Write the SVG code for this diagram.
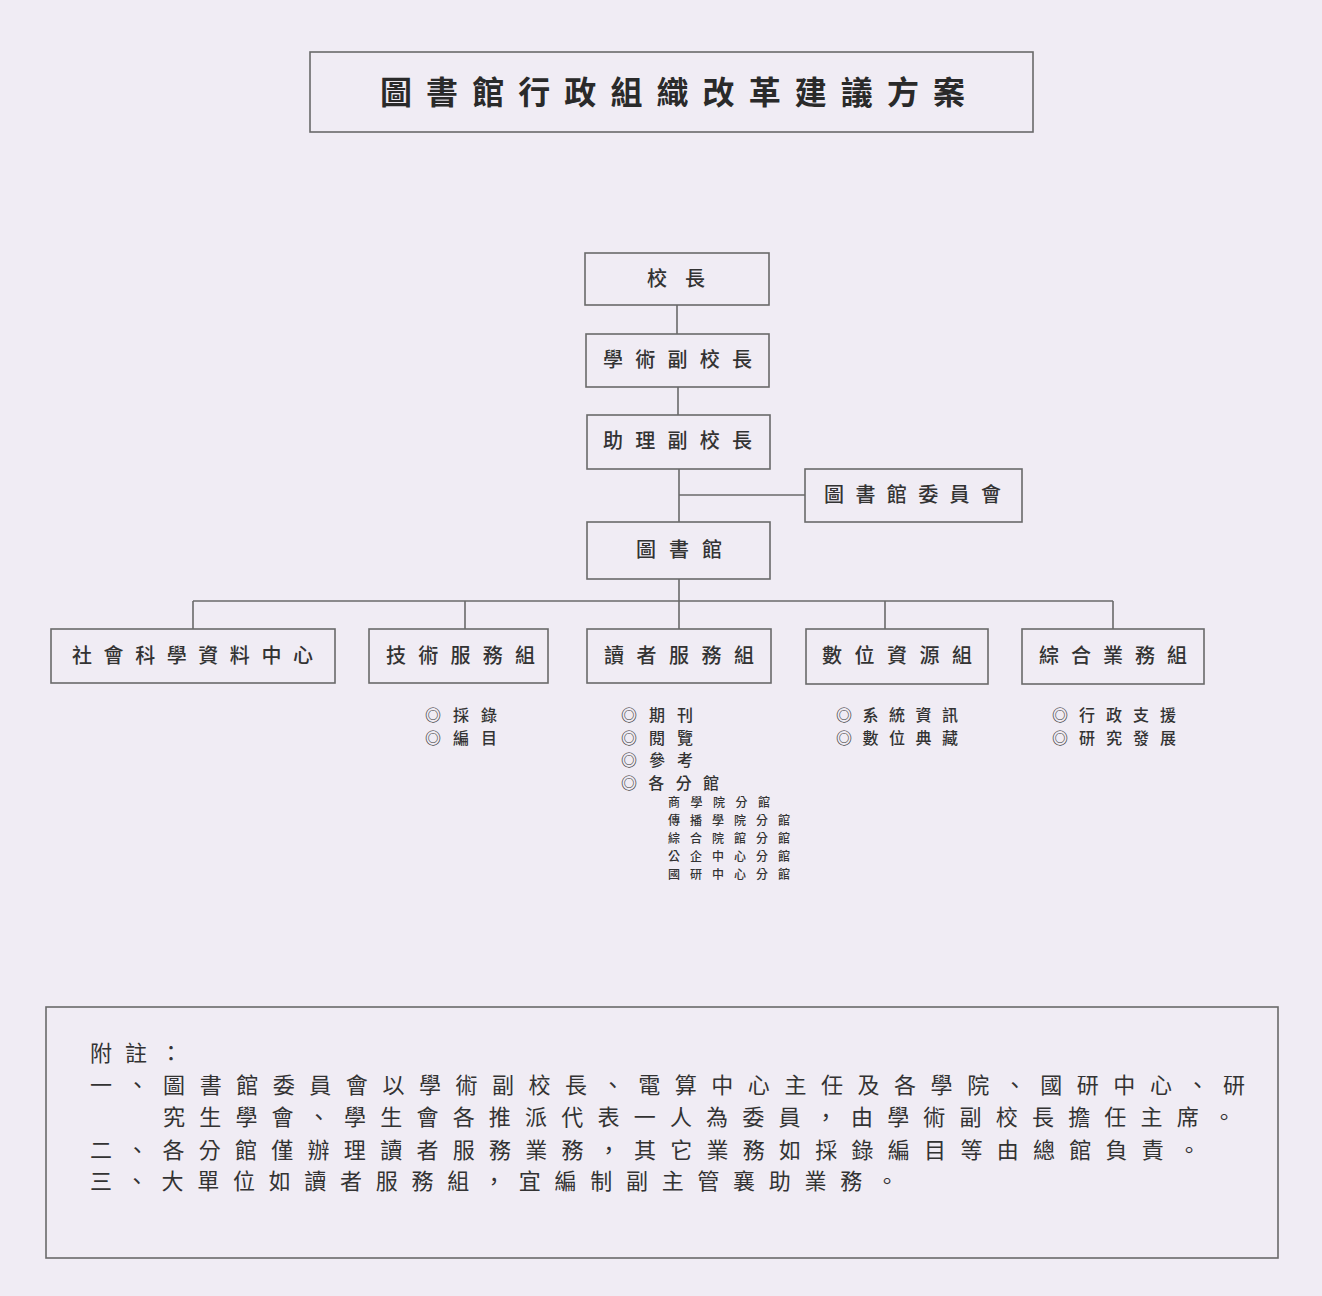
<svg xmlns="http://www.w3.org/2000/svg" width="1322" height="1296" viewBox="0 0 1322 1296">
<style>
  .bg { fill: #f0ecf4; }
  .box { fill: none; stroke: #6a6a6a; stroke-width: 1.6; }
  .ln { fill: none; stroke: #6a6a6a; stroke-width: 1.6; }
  text { font-family: "Noto Sans CJK TC", "Noto Sans CJK SC", sans-serif; fill: #333; }
  .title { font-size: 32px; font-weight: bold; fill: #2a2a2a; }
  .node { font-size: 20px; font-weight: 500; }
  .item { font-size: 16px; font-weight: 500; }
  .sub { font-size: 12px; font-weight: 500; }
  .note { font-size: 22px; }
</style>
<rect class="bg" x="0" y="0" width="1322" height="1296"/>

<g id="title">
  <rect class="box" x="310" y="52" width="723" height="80"/>
  <text class="title" x="380" y="104" textLength="585" lengthAdjust="spacing">圖書館行政組織改革建議方案</text>
</g>

<g id="connectors">
  <line class="ln" x1="677" y1="305" x2="677" y2="334"/>
  <line class="ln" x1="678" y1="387" x2="678" y2="415"/>
  <line class="ln" x1="679" y1="469" x2="679" y2="522"/>
  <line class="ln" x1="679" y1="495" x2="805" y2="495"/>
  <line class="ln" x1="679" y1="579" x2="679" y2="601"/>
  <line class="ln" x1="193" y1="601" x2="1113" y2="601"/>
  <line class="ln" x1="193" y1="601" x2="193" y2="629"/>
  <line class="ln" x1="465" y1="601" x2="465" y2="629"/>
  <line class="ln" x1="679" y1="601" x2="679" y2="629"/>
  <line class="ln" x1="885" y1="601" x2="885" y2="629"/>
  <line class="ln" x1="1113" y1="601" x2="1113" y2="629"/>
</g>

<g id="president">
  <rect class="box" x="585" y="253" width="184" height="52"/>
  <text class="node" x="647" y="286" textLength="58" lengthAdjust="spacing">校長</text>
</g>
<g id="academic-vp">
  <rect class="box" x="586" y="334" width="183" height="53"/>
  <text class="node" x="603" y="367" textLength="149" lengthAdjust="spacing">學術副校長</text>
</g>
<g id="assistant-vp">
  <rect class="box" x="587" y="415" width="183" height="54"/>
  <text class="node" x="603" y="448" textLength="149" lengthAdjust="spacing">助理副校長</text>
</g>
<g id="library-committee">
  <rect class="box" x="805" y="469" width="217" height="53"/>
  <text class="node" x="824" y="502" textLength="177" lengthAdjust="spacing">圖書館委員會</text>
</g>
<g id="library">
  <rect class="box" x="587" y="522" width="183" height="57"/>
  <text class="node" x="636" y="557" textLength="86" lengthAdjust="spacing">圖書館</text>
</g>

<g id="social-science-center">
  <rect class="box" x="51" y="629" width="284" height="54"/>
  <text class="node" x="72" y="663" textLength="241" lengthAdjust="spacing">社會科學資料中心</text>
</g>
<g id="technical-services">
  <rect class="box" x="369" y="629" width="179" height="54"/>
  <text class="node" x="386" y="663" textLength="149" lengthAdjust="spacing">技術服務組</text>
  <text class="item" x="425" y="721" textLength="72" lengthAdjust="spacing">◎採錄</text>
  <text class="item" x="425" y="744" textLength="72" lengthAdjust="spacing">◎編目</text>
</g>
<g id="reader-services">
  <rect class="box" x="587" y="629" width="184" height="54"/>
  <text class="node" x="604" y="663" textLength="150" lengthAdjust="spacing">讀者服務組</text>
  <text class="item" x="621" y="721" textLength="72" lengthAdjust="spacing">◎期刊</text>
  <text class="item" x="621" y="744" textLength="72" lengthAdjust="spacing">◎閱覽</text>
  <text class="item" x="621" y="766" textLength="72" lengthAdjust="spacing">◎參考</text>
  <text class="item" x="621" y="789" textLength="98" lengthAdjust="spacing">◎各分館</text>
  <text class="sub" x="668" y="807" textLength="102" lengthAdjust="spacing">商學院分館</text>
  <text class="sub" x="668" y="825" textLength="122" lengthAdjust="spacing">傳播學院分館</text>
  <text class="sub" x="668" y="843" textLength="122" lengthAdjust="spacing">綜合院館分館</text>
  <text class="sub" x="668" y="861" textLength="122" lengthAdjust="spacing">公企中心分館</text>
  <text class="sub" x="668" y="879" textLength="122" lengthAdjust="spacing">國研中心分館</text>
</g>
<g id="digital-resources">
  <rect class="box" x="806" y="629" width="182" height="55"/>
  <text class="node" x="822" y="663" textLength="150" lengthAdjust="spacing">數位資源組</text>
  <text class="item" x="836" y="721" textLength="122" lengthAdjust="spacing">◎系統資訊</text>
  <text class="item" x="836" y="744" textLength="122" lengthAdjust="spacing">◎數位典藏</text>
</g>
<g id="general-affairs">
  <rect class="box" x="1022" y="629" width="182" height="55"/>
  <text class="node" x="1039" y="663" textLength="148" lengthAdjust="spacing">綜合業務組</text>
  <text class="item" x="1052" y="721" textLength="124" lengthAdjust="spacing">◎行政支援</text>
  <text class="item" x="1052" y="744" textLength="124" lengthAdjust="spacing">◎研究發展</text>
</g>

<g id="notes">
  <rect class="box" x="46" y="1007" width="1232" height="251"/>
  <text class="note" x="90" y="1061" font-size="20" textLength="92" lengthAdjust="spacing">附註：</text>
  <text class="note" x="90" y="1093" textLength="1155" lengthAdjust="spacing">一、圖書館委員會以學術副校長、電算中心主任及各學院、國研中心、研</text>
  <text class="note" x="163" y="1125" textLength="1072" lengthAdjust="spacing">究生學會、學生會各推派代表一人為委員，由學術副校長擔任主席。</text>
  <text class="note" x="90" y="1158" textLength="1110" lengthAdjust="spacing">二、各分館僅辦理讀者服務業務，其它業務如採錄編目等由總館負責。</text>
  <text class="note" x="90" y="1189" textLength="808" lengthAdjust="spacing">三、大單位如讀者服務組，宜編制副主管襄助業務。</text>
</g>
</svg>
